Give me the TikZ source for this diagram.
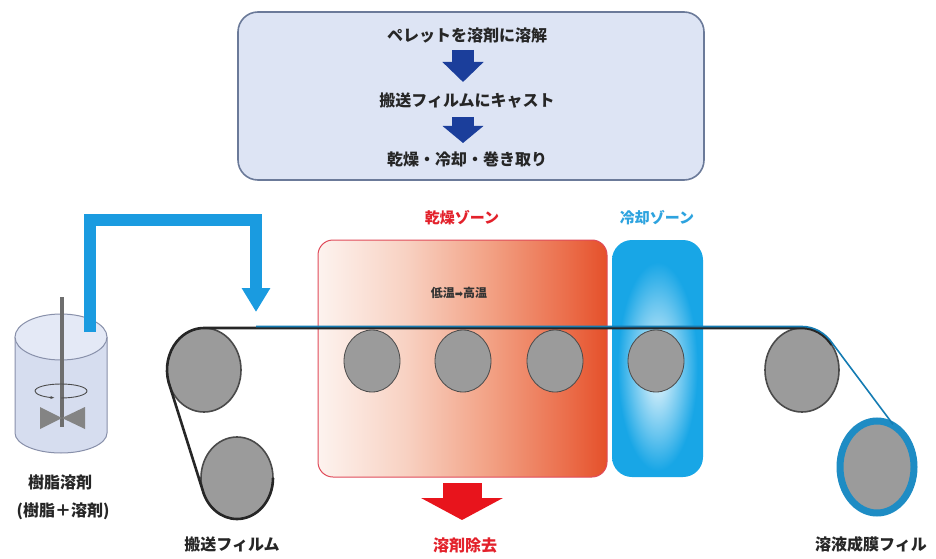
\documentclass[tikz,border=0pt]{standalone}
\usepackage{fontspec}
\newfontfamily\jp{Noto Sans CJK JP}
\newfontfamily\dejavu{DejaVu Sans}
\usetikzlibrary{arrows.meta,calc}

\definecolor{boxfill}{HTML}{DDE4F4}
\definecolor{boxline}{HTML}{6B7A99}
\definecolor{navy}{HTML}{1B3E9B}
\definecolor{pipeblue}{HTML}{1A9BE0}
\definecolor{dryred}{HTML}{E3212B}
\definecolor{dryedge}{HTML}{E04B5A}
\definecolor{dryA}{HTML}{FDF3EF}
\definecolor{dryB}{HTML}{F8D2C3}
\definecolor{dryC}{HTML}{F2A083}
\definecolor{dryD}{HTML}{EB6E4B}
\definecolor{dryE}{HTML}{E5502A}
\definecolor{coolB}{HTML}{18A6E6}
\definecolor{coollabel}{HTML}{2DA3DF}
\definecolor{redarrow}{HTML}{E8141C}
\definecolor{rollgray}{HTML}{9B9B9B}
\definecolor{rollline}{HTML}{4A4A4A}
\definecolor{ringblue}{HTML}{1E8CC4}
\definecolor{tankfill}{HTML}{D6DDEF}
\definecolor{tanktop}{HTML}{E4E9F6}
\definecolor{tankline}{HTML}{8890AA}
\definecolor{shaftgray}{HTML}{6E6E6E}

% drying zone: pale on the left, red-orange on the right
\pgfdeclarehorizontalshading{dryshade}{100bp}{color(0bp)=(dryA); color(25bp)=(dryA);
  color(40bp)=(dryB); color(55bp)=(dryC); color(68bp)=(dryD); color(75bp)=(dryE); color(100bp)=(dryE)}
% cooling zone: soft pale glow in a blue panel
\pgfdeclareradialshading{coolshade}{\pgfpoint{0bp}{-3bp}}{color(0bp)=(coolB!18!white); color(5bp)=(coolB!28!white);
  color(14bp)=(coolB!65!white); color(22bp)=(coolB); color(50bp)=(coolB)}

\tikzset{
  jptext/.style={font=\jp\bfseries, inner sep=0pt},
  steptext/.style={jptext, font=\jp\bfseries\fontsize{16}{18}\selectfont, text=black!85},
  labeltext/.style={jptext, font=\jp\bfseries\fontsize{16}{18}\selectfont, text=black!85},
  zonelabel/.style={jptext, font=\jp\bfseries\fontsize{15}{17}\selectfont},
  blockarrow/.style={navy, line width=22pt, -{Triangle[width=40pt,length=20pt]}},
  roller/.style={fill=rollgray, draw=rollline, line width=0.8pt},
  bigroller/.style={fill=rollgray, draw=rollline, line width=1.6pt},
  belt/.style={draw=black!85, line width=2.6pt},
  pipe/.style={draw=pipeblue, line width=12pt, line join=miter},
}

\begin{document}
\begin{tikzpicture}[x=1pt,y=1pt]
\useasboundingbox[fill=white] (0,0) rectangle (936,558);

% ---- process summary box ----
\draw[fill=boxfill, draw=boxline, line width=1.6pt, rounded corners=20pt] (238,378) rectangle (704,546);
\node[steptext] (s1) at (467,523) {ペレットを溶剤に溶解};
\node[steptext] (s2) at (467,457) {搬送フィルムにキャスト};
\node[steptext] (s3) at (467,399) {乾燥・冷却・巻き取り};
\coordinate (a1s) at (463,508); \coordinate (a1e) at (463,476);
\coordinate (a2s) at (463,441); \coordinate (a2e) at (463,415);
\draw[blockarrow] (a1s) -- (a1e);
\draw[blockarrow, -{Triangle[width=40pt,length=17pt]}] (a2s) -- (a2e);

% ---- drying and cooling zones ----
\shade[shading=dryshade, rounded corners=15pt] (318,81) rectangle (607,318);
\draw[dryedge, line width=1pt, rounded corners=15pt] (318,81) rectangle (607,318);
\shade[shading=coolshade, rounded corners=20pt] (612,81) rectangle (703,318);
\node[zonelabel, text=dryred] (dryl) at (462,340) {乾燥ゾーン};
\node[zonelabel, text=coollabel] (cooll) at (657,340) {冷却ゾーン};
\node[jptext, font=\jp\bfseries\fontsize{12}{14}\selectfont, text=black!80] (temp) at (459,265)
  {低温{\dejavu\fontsize{10}{12}\selectfont ➡}高温};

% ---- solvent removal ----
\coordinate (rs) at (462,75); \coordinate (re) at (462,38);
\draw[redarrow, line width=39pt, -{Triangle[width=81pt,length=22pt]}] (rs) -- (re);
\node[labeltext, text=dryred] (solv) at (465,13) {溶剤除去};

% ---- rollers ----
\coordinate (r1) at (204,188);
\coordinate (r2) at (237,80);
\coordinate (z1) at (372,197);
\coordinate (z2) at (463,197);
\coordinate (z3) at (555,197);
\coordinate (z4) at (656,197);
\coordinate (r3) at (802,188);
\coordinate (rf) at (877,91);

\draw[bigroller] (r1) ellipse[x radius=37, y radius=42];
\draw[bigroller] (r2) ellipse[x radius=36, y radius=41];
\foreach \z in {z1,z2,z3,z4}
  \draw[roller] (\z) ellipse[x radius=28, y radius=31];
\draw[bigroller] (r3) ellipse[x radius=37, y radius=42];
\draw[draw=ringblue, fill=rollgray, line width=7pt] (rf) ellipse[x radius=37, y radius=46];

% carrier belt: off the supply roll, round the first roller, along the line
\draw[belt] ($(r2)+(0:36 and 41)$) arc[start angle=0, end angle=-163, x radius=36, y radius=41]
  -- ($(r1)+(197:37 and 42)$) arc[start angle=197, end angle=90, x radius=37, y radius=42]
  -- ($(r3)+(0,42)$) arc[start angle=90, end angle=37, x radius=37, y radius=42];

% cast film on top of the carrier, taken up on the final roll
\coordinate (castPt) at (256,246);
\draw[pipeblue!80!black, line width=1.6pt] (256,231.5) -- ($(r3)+(0,43.5)$)
  arc[start angle=90, end angle=37, x radius=38.5, y radius=43.5]
  -- ($(rf)+(65:38 and 47)$);

% ---- dissolving tank ----
\coordinate (tk) at (61,221);
\draw[fill=tankfill, draw=tankline, line width=1pt]
  (15,221) -- (15,125) arc[start angle=180, end angle=360, x radius=46, y radius=20] -- (107,221);
\draw[fill=tanktop, draw=tankline, line width=1pt] (tk) ellipse[x radius=46, y radius=23];
\draw[shaftgray, line width=3.5pt] (62,261) -- (62,131);
\fill[shaftgray!85] (40,151) -- (62,140) -- (40,129) -- cycle;
\fill[shaftgray!85] (85,151) -- (62,140) -- (85,129) -- cycle;
\draw[black!70, line width=0.9pt, -{Stealth[length=4pt]}]
  (61,160) arc[start angle=-90, end angle=255, x radius=26, y radius=7];

% ---- feed pipe: tank to casting point ----
\coordinate (pipeStart) at (90,226);
\draw[pipe, -{Triangle[width=27pt,length=24pt]}] (pipeStart) -- ++(0,112) -| (castPt);

% ---- labels ----
\node[labeltext] (tankl) at (60,76) {樹脂溶剤};
\node[labeltext] (tankm) at (63,47) {(樹脂＋溶剤)};
\node[labeltext] (carrier) at (232,14) {搬送フィルム};
\node[labeltext, anchor=west] (product) at (815,14) {溶液成膜フィル};
\end{tikzpicture}
\end{document}
